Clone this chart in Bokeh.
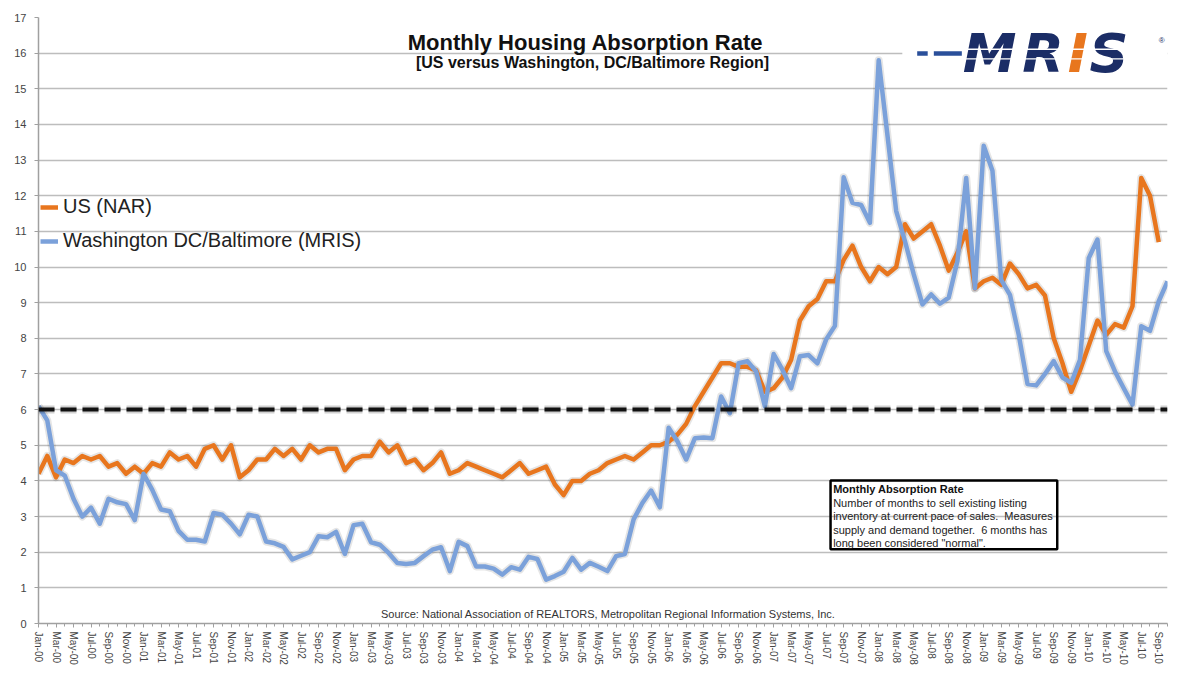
from bokeh.plotting import figure
from bokeh.models import (FixedTicker, Span, Legend, LegendItem, Label, Range1d,
                          BoxAnnotation, ColumnDataSource)
from bokeh.embed import file_html
from bokeh.resources import INLINE

# ---------------- data ----------------
month_names = ["Jan", "Feb", "Mar", "Apr", "May", "Jun",
               "Jul", "Aug", "Sep", "Oct", "Nov", "Dec"]
n_months = 130  # Jan-00 .. Oct-10
month_labels = [f"{month_names[i % 12]}-{(2000 + i // 12) % 100:02d}" for i in range(n_months)]

us_nar = [
    4.2, 4.7, 4.1, 4.6, 4.5, 4.7, 4.6, 4.7, 4.4, 4.5, 4.2, 4.4,   # 2000
    4.2, 4.5, 4.4, 4.8, 4.6, 4.7, 4.4, 4.9, 5.0, 4.6, 5.0, 4.1,   # 2001
    4.3, 4.6, 4.6, 4.9, 4.7, 4.9, 4.6, 5.0, 4.8, 4.9, 4.9, 4.3,   # 2002
    4.6, 4.7, 4.7, 5.1, 4.8, 5.0, 4.5, 4.6, 4.3, 4.5, 4.8, 4.2,   # 2003
    4.3, 4.5, 4.4, 4.3, 4.2, 4.1, 4.3, 4.5, 4.2, 4.3, 4.4, 3.9,   # 2004
    3.6, 4.0, 4.0, 4.2, 4.3, 4.5, 4.6, 4.7, 4.6, 4.8, 5.0, 5.0,   # 2005
    5.1, 5.3, 5.6, 6.1, 6.5, 6.9, 7.3, 7.3, 7.2, 7.2, 7.1, 6.5,   # 2006
    6.6, 6.9, 7.4, 8.5, 8.9, 9.1, 9.6, 9.6, 10.2, 10.6, 10.0, 9.6,  # 2007
    10.0, 9.8, 10.0, 11.2, 10.8, 11.0, 11.2, 10.6, 9.9, 10.4, 11.0, 9.4,  # 2008
    9.6, 9.7, 9.5, 10.1, 9.8, 9.4, 9.5, 9.2, 8.0, 7.3, 6.5, 7.1,   # 2009
    7.8, 8.5, 8.1, 8.4, 8.3, 8.9, 12.5, 12.0, 10.7,               # 2010
]

mris = [
    6.1, 5.7, 4.3, 4.15, 3.5, 3.0, 3.25, 2.8, 3.5, 3.4, 3.35, 2.9,        # 2000
    4.2, 3.75, 3.2, 3.15, 2.6, 2.35, 2.35, 2.3, 3.1, 3.05, 2.8, 2.5,      # 2001
    3.05, 3.0, 2.3, 2.25, 2.15, 1.8, 1.9, 2.0, 2.45, 2.42, 2.57, 1.95,    # 2002
    2.76, 2.8, 2.28, 2.21, 1.98, 1.7, 1.67, 1.7, 1.89, 2.07, 2.14, 1.47,  # 2003
    2.29, 2.17, 1.6, 1.6, 1.54, 1.37, 1.58, 1.51, 1.87, 1.81, 1.23, 1.33, # 2004
    1.45, 1.84, 1.51, 1.7, 1.59, 1.47, 1.89, 1.95, 2.92, 3.38, 3.73, 3.26, # 2005
    5.49, 5.11, 4.6, 5.2, 5.22, 5.2, 6.37, 5.9, 7.3, 7.36, 7.07, 6.09,    # 2006
    7.56, 7.12, 6.6, 7.5, 7.53, 7.3, 7.97, 8.35, 12.52, 11.8, 11.74, 11.24,  # 2007
    15.8, 13.7, 11.57, 10.73, 9.8, 8.95, 9.23, 8.97, 9.14, 10.17, 12.5, 9.4,  # 2008
    13.4, 12.7, 9.64, 9.22, 8.1, 6.72, 6.68, 7.0, 7.36, 6.9, 6.75, 7.4,   # 2009
    10.25, 10.77, 7.64, 7.07, 6.6, 6.14, 8.34, 8.21, 9.04, 9.6,           # 2010
]

normal_level = 6
y_ticks = list(range(0, 18))

# ---------------- figure ----------------
p = figure(width=1200, height=679, output_backend="svg", toolbar_location=None,
           x_range=Range1d(0, n_months - 1), y_range=Range1d(0, 17),
           min_border_left=38, min_border_right=33, min_border_top=17, min_border_bottom=56)
p.outline_line_color = None
p.background_fill_color = "white"
p.border_fill_color = "white"

FONT = "Liberation Sans"
GREY_TXT = "#444444"

# axes
p.xaxis.ticker = FixedTicker(ticks=list(range(0, n_months, 2)), minor_ticks=list(range(0, n_months)))
p.xaxis.major_label_overrides = {i: month_labels[i] for i in range(0, n_months, 2)}
p.xaxis.major_label_orientation = "vertical"
p.xaxis.major_label_text_font = FONT
p.xaxis.major_label_text_font_size = "10px"
p.xaxis.major_label_text_color = GREY_TXT
p.xaxis.major_label_standoff = 4
p.xaxis.axis_line_color = "#A0A0A0"
p.xaxis.axis_line_width = 1.5
p.xaxis.major_tick_line_color = "#A0A0A0"
p.xaxis.minor_tick_line_color = "#A0A0A0"
p.xaxis.major_tick_out = 4
p.xaxis.major_tick_in = 0
p.xaxis.minor_tick_out = 3
p.xaxis.minor_tick_in = 0

p.yaxis.ticker = FixedTicker(ticks=y_ticks)
p.yaxis.major_label_text_font = FONT
p.yaxis.major_label_text_font_size = "11px"
p.yaxis.major_label_text_color = GREY_TXT
p.yaxis.major_label_standoff = 8
p.yaxis.axis_line_color = "#A0A0A0"
p.yaxis.axis_line_width = 1.5
p.yaxis.major_tick_line_color = "#A0A0A0"
p.yaxis.major_tick_out = 4
p.yaxis.major_tick_in = 0
p.yaxis.minor_tick_line_color = None

p.xgrid.grid_line_color = None
p.ygrid.ticker = FixedTicker(ticks=y_ticks)
p.ygrid.grid_line_color = "#BDBDBD"
p.ygrid.grid_line_width = 1.5

# white backdrop behind logo (interrupts the gridline at 16)
logo_bg = BoxAnnotation(left=98.7, right=n_months - 1, bottom=15.45, top=16.55,
                        fill_color="white", fill_alpha=1.0, line_color=None, level="underlay")
p.add_layout(logo_bg)

# 6-month "normal" reference line (with soft shadow)
p.add_layout(Span(location=normal_level, dimension="width", line_color="#000000",
                  line_alpha=0.18, line_width=8, line_dash="16 6"))
p.add_layout(Span(location=normal_level, dimension="width", line_color="#111111",
                  line_width=4, line_dash="16 6"))

# series
src_us = ColumnDataSource(dict(x=list(range(len(us_nar))), y=us_nar))
src_mr = ColumnDataSource(dict(x=list(range(len(mris))), y=mris))

ORANGE = "#E8761E"
BLUE = "#7BA1DA"
p.line("x", "y", source=src_us, line_color="#000000", line_alpha=0.10, line_width=8, line_join="round")
p.line("x", "y", source=src_mr, line_color="#000000", line_alpha=0.10, line_width=8, line_join="round")
r_us = p.line("x", "y", source=src_us, line_color=ORANGE, line_width=4.5, line_join="round")
r_mr = p.line("x", "y", source=src_mr, line_color=BLUE, line_width=4.5, line_join="round")

legend = Legend(items=[LegendItem(label="US (NAR)", renderers=[r_us]),
                       LegendItem(label="Washington DC/Baltimore (MRIS)", renderers=[r_mr])],
                location=(2, 371), orientation="vertical",
                label_text_font=FONT, label_text_font_size="20px", label_text_color="#222222",
                glyph_width=18, glyph_height=20, label_height=20, label_standoff=5,
                spacing=11, padding=0, margin=0,
                border_line_color=None, background_fill_alpha=0)
p.add_layout(legend)

# titles
p.add_layout(Label(x=62.5, y=16.30, text="Monthly Housing Absorption Rate",
                   text_font=FONT, text_font_size="22px", text_font_style="bold",
                   text_align="center", text_baseline="middle", text_color="#111111"))
p.add_layout(Label(x=63.3, y=15.74, text="[US versus Washington, DC/Baltimore Region]",
                   text_font=FONT, text_font_size="16px", text_font_style="bold",
                   text_align="center", text_baseline="middle", text_color="#111111"))

# source
p.add_layout(Label(x=65.1, y=0.28,
                   text="Source: National Association of REALTORS, Metropolitan Regional Information Systems, Inc.",
                   text_font=FONT, text_font_size="11px", text_align="center",
                   text_baseline="middle", text_color="#333333"))

# annotation box
p.add_layout(BoxAnnotation(left=90.5, right=116.4, bottom=2.08, top=4.01,
                           fill_alpha=0, line_color="black", line_alpha=1.0, line_width=2.5))
box_lines = ["Number of months to sell existing listing",
             "inventory at current pace of sales.\u00a0 Measures",
             "supply and demand together.\u00a0 6 months has",
             "long been considered \"normal\"."]
p.add_layout(Label(x=90.8, y=3.76, text="Monthly Absorption Rate", text_font=FONT,
                   text_font_size="11px", text_font_style="bold", text_baseline="middle",
                   text_color="#111111"))
for k, t in enumerate(box_lines):
    p.add_layout(Label(x=90.8, y=3.385 - 0.375 * k, text=t, text_font=FONT,
                       text_font_size="11px", text_baseline="middle", text_color="#222222"))

# MRIS logo (approximation with text)
NAVY = "#1B2D66"
LOGO_BLUE = "#2A4F9A"
p.add_layout(BoxAnnotation(left=100.4, right=101.6, bottom=15.93, top=16.05,
                           fill_color=LOGO_BLUE, fill_alpha=1.0, line_color=None))
p.add_layout(BoxAnnotation(left=102.3, right=105.5, bottom=15.93, top=16.05,
                           fill_color=LOGO_BLUE, fill_alpha=1.0, line_color=None))
for ch, xx, col in [("M", 105.6, NAVY), ("R", 112.4, NAVY), ("I", 117.6, ORANGE), ("S", 120.1, NAVY)]:
    p.add_layout(Label(x=xx, y=15.99, text=ch, text_font="DejaVu Sans", text_font_size="54px",
                       text_font_style="bold italic", text_baseline="middle",
                       text_color=col))
p.add_layout(BoxAnnotation(left=105.0, right=125.5, bottom=16.09, top=16.13,
                           fill_color="white", fill_alpha=1.0, line_color=None))
p.add_layout(BoxAnnotation(left=105.0, right=125.5, bottom=15.82, top=15.86,
                           fill_color="white", fill_alpha=1.0, line_color=None))
p.add_layout(Label(x=128.0, y=16.35, text="®", text_font=FONT, text_font_size="8px",
                   text_baseline="middle", text_color=NAVY))

open("out.html", "w").write(file_html(p, INLINE))
